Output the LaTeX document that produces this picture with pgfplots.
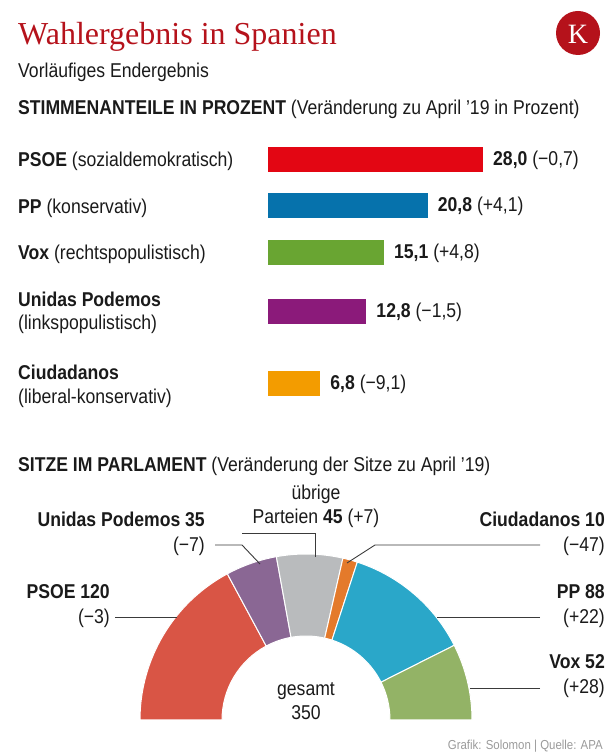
\documentclass[border=0pt]{standalone}
\usepackage{fontspec}
\setmainfont{Liberation Sans}[FakeStretch=0.88]
\newfontfamily\serif{Liberation Serif}
\usepackage{pgfplots}
\usepackage{pgfplotstable}
\pgfplotsset{compat=1.18}
\definecolor{kred}{HTML}{B5121B}
\definecolor{bpsoe}{HTML}{E30613}
\definecolor{bpp}{HTML}{0672AC}
\definecolor{bvox}{HTML}{69A532}
\definecolor{bup}{HTML}{8B1A7A}
\definecolor{bcs}{HTML}{F39C00}
\definecolor{col0}{HTML}{D95545}
\definecolor{col1}{HTML}{8A6794}
\definecolor{col2}{HTML}{B9BBBD}
\definecolor{col3}{HTML}{E47A2B}
\definecolor{col4}{HTML}{2AA7C9}
\definecolor{col5}{HTML}{93B366}
\definecolor{txt}{HTML}{1A1A1A}
\definecolor{lead}{HTML}{3A3A3A}
\definecolor{foot}{HTML}{9A9A9A}
\newcommand\fs[1]{\fontsize{#1}{#1}\selectfont}

\pgfplotstableread{
party seats
PSOE 120
UP 35
Others 45
Cs 10
PP 88
Vox 52
}\seats

\begin{document}
\begin{tikzpicture}[x=1pt,y=1pt]
\useasboundingbox (0,0) rectangle (616,753);
\begin{scope}[every node/.style={inner sep=0pt,text=txt}]
% ---------- header ----------
\node[anchor=base west,text=kred,font=\serif\fs{32}] at (18,708) {Wahlergebnis in Spanien};
\fill[kred] (578,720) circle (22);
\node[text=white,font=\serif\fs{28}] at (578,719) {K};
\node[anchor=base west,font=\fs{20}] at (18,675) {Vorläufiges Endergebnis};
\node[anchor=base west,font=\fs{20}] at (18,638) {\textbf{STIMMENANTEILE IN PROZENT} (Veränderung zu April '19 in Prozent)};

% ---------- bar labels ----------
\node[anchor=base west,font=\fs{20}] at (18,586) {\textbf{PSOE} (sozialdemokratisch)};
\node[anchor=base west,font=\fs{20}] at (18,539) {\textbf{PP} (konservativ)};
\node[anchor=base west,font=\fs{20}] at (18,493) {\textbf{Vox} (rechtspopulistisch)};
\node[anchor=base west,font=\fs{20}] at (18,446) {\textbf{Unidas Podemos}};
\node[anchor=base west,font=\fs{20}] at (18,423) {(linkspopulistisch)};
\node[anchor=base west,font=\fs{20}] at (18,373) {\textbf{Ciudadanos}};
\node[anchor=base west,font=\fs{20}] at (18,349) {(liberal-konservativ)};
\node[anchor=base west,font=\fs{20}] at (18,281) {\textbf{SITZE IM PARLAMENT} (Veränderung der Sitze zu April '19)};
\end{scope}

% ---------- bar chart ----------
\begin{axis}[
  at={(268pt,343pt)}, anchor=south west,
  x=7.6786pt, y=1pt,
  xmin=0, xmax=28, ymin=-410, ymax=-140,
  enlargelimits=false,
  axis lines=none, clip=false,
  point meta=explicit symbolic,
  nodes near coords,
  every node near coord/.append style={anchor=west,inner sep=0pt,xshift=10pt,font=\fs{20},text=txt},
]
\addplot[xbar, bar width=25pt, bar shift=0pt, fill=bpsoe,draw=none] coordinates {(28.0,-160) [\textbf{28,0} (−0,7)]};
\addplot[xbar, bar width=25pt, bar shift=0pt, fill=bpp,draw=none] coordinates {(20.8,-206) [\textbf{20,8} (+4,1)]};
\addplot[xbar, bar width=25pt, bar shift=0pt, fill=bvox,draw=none] coordinates {(15.1,-253) [\textbf{15,1} (+4,8)]};
\addplot[xbar, bar width=25pt, bar shift=0pt, fill=bup,draw=none] coordinates {(12.8,-312) [\textbf{12,8} (−1,5)]};
\addplot[xbar, bar width=25pt, bar shift=0pt, fill=bcs,draw=none] coordinates {(6.8,-384) [\textbf{6,8} (−9,1)]};
\end{axis}

% ---------- seats ----------
\gdef\cum{0}
\foreach \i in {0,...,5}{
  \pgfplotstablegetelem{\i}{seats}\of\seats
  \pgfmathsetmacro\aA{180-\cum/350*180}
  \pgfmathsetmacro\newcum{\cum+\pgfplotsretval}
  \pgfmathsetmacro\aB{180-\newcum/350*180}
  \expandafter\xdef\csname angA\i\endcsname{\aA}
  \expandafter\xdef\csname angB\i\endcsname{\aB}
  \xdef\cum{\newcum}
}

\begin{axis}[
  at={(136pt,33pt)}, anchor=south west,
  x=1pt, y=1pt,
  xmin=-170, xmax=170, ymin=0, ymax=170,
  axis lines=none, clip=false,
]
\pgfplotsinvokeforeach{0,...,5}{
  \fill[col#1,draw=white,line width=1pt]
    (axis cs:{166*cos(\csname angA#1\endcsname)},{166*sin(\csname angA#1\endcsname)})
    arc[start angle=\csname angA#1\endcsname, end angle=\csname angB#1\endcsname, radius=166]
    -- (axis cs:{84*cos(\csname angB#1\endcsname)},{84*sin(\csname angB#1\endcsname)})
    arc[start angle=\csname angB#1\endcsname, end angle=\csname angA#1\endcsname, radius=84]
    -- cycle;
}
\end{axis}

\begin{scope}[every node/.style={inner sep=0pt,text=txt}]
% leader lines
\draw[lead,line width=0.9pt] (215,208) -- (242,208) -- (260,189);
\draw[lead,line width=0.9pt] (242,220) -- (315,220) -- (315,196);
\draw[lead,line width=0.9pt] (540,208) -- (375,208) -- (347,190);
\draw[lead,line width=0.9pt] (115,136) -- (177,136);
\draw[lead,line width=0.9pt] (540,136) -- (437,136);
\draw[lead,line width=0.9pt] (540,65) -- (470,65);

% seat labels
\node[anchor=base east,font=\fs{20}\bfseries] at (205,226) {Unidas Podemos 35};
\node[anchor=base east,font=\fs{20}] at (205,201) {(−7)};
\node[anchor=base,font=\fs{20}] at (316,253) {übrige};
\node[anchor=base,font=\fs{20}] at (316,229) {Parteien \textbf{45} (+7)};
\node[anchor=base east,font=\fs{20}\bfseries] at (605,226) {Ciudadanos 10};
\node[anchor=base east,font=\fs{20}] at (605,201) {(−47)};
\node[anchor=base east,font=\fs{20}\bfseries] at (110,154) {PSOE 120};
\node[anchor=base east,font=\fs{20}] at (110,129) {(−3)};
\node[anchor=base east,font=\fs{20}\bfseries] at (605,154) {PP 88};
\node[anchor=base east,font=\fs{20}] at (605,129) {(+22)};
\node[anchor=base east,font=\fs{20}\bfseries] at (605,84) {Vox 52};
\node[anchor=base east,font=\fs{20}] at (605,59) {(+28)};
\node[anchor=base,font=\fs{20}] at (306,57) {gesamt};
\node[anchor=base,font=\fs{20}] at (306,34) {350};
\node[anchor=base east,text=foot,font=\fs{13}] at (603,3) {Grafik: Solomon | Quelle: APA};
\end{scope}
\end{tikzpicture}
\end{document}
